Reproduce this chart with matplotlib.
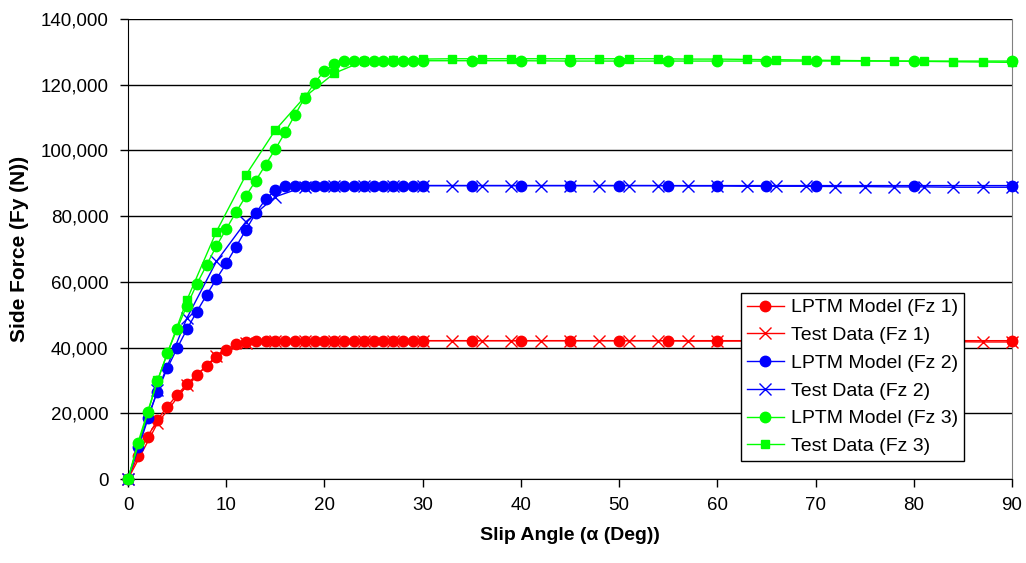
import matplotlib
matplotlib.use("Agg")
import matplotlib.pyplot as plt
from matplotlib.ticker import FuncFormatter, MultipleLocator

plt.rcParams['font.family'] = ['Liberation Sans', 'DejaVu Sans']

# slip angles (deg)
model_alpha = list(range(0, 31)) + [35, 40, 45, 50, 55, 60, 65, 70, 80, 90]
test_alpha = list(range(0, 91, 3))

# LPTM model, Fz 1 / 2 / 3
model_fz1 = [0, 7100, 12900, 18000, 22000, 25600, 28900, 31700, 34400, 37000,
             39300, 41000, 41800] + [42100] * 18 + [42100] * 10
model_fz2 = [0, 9800, 18700, 26600, 33700, 39800, 45600, 50900, 56000, 60900,
             65600, 70700, 75800, 80900, 85100, 87900, 89300] + [89300] * 14 + [89300] * 10
model_fz3 = [0, 10900, 20500, 29800, 38300, 45700, 52800, 59300, 65100, 70900,
             76100, 81200, 86100, 90800, 95600, 100400, 105500, 110800, 116100, 120600,
             124200, 126200, 127200, 127300, 127300, 127300, 127300, 127300, 127300, 127300,
             127300, 127300, 127300, 127200, 127200, 127200, 127200, 127200, 127200, 127200, 127200]

# test data, Fz 1 / 2 / 3
test_fz1 = [0, 17000, 28500, 37500, 41300, 42000, 42100, 42100, 42100, 42100,
            42100, 42100, 42100, 42100, 42100, 42100, 42100, 42100, 42100, 42000,
            42000, 42000, 42000, 42000, 42000, 41900, 41900, 41800, 41800, 41700, 41700]
test_fz2 = [0, 27000, 49000, 66200, 78300, 85900, 89000, 89300, 89300, 89300,
            89300, 89300, 89300, 89300, 89300, 89300, 89300, 89300, 89300, 89200,
            89200, 89100, 89100, 89100, 89000, 89000, 88900, 88900, 88800, 88800, 88800]
test_fz3 = [0, 30000, 54500, 75300, 92500, 106200, 116300, 123500, 127200, 127600,
            127800, 127900, 127900, 127900, 127900, 127900, 127900, 127900, 127900, 127800,
            127800, 127700, 127600, 127500, 127400, 127300, 127200, 127100, 127000, 126900, 126800]

fig = plt.figure(figsize=(10.26, 5.63), dpi=100)
ax = fig.add_axes([128 / 1026, 1 - 479 / 563, (1012 - 128) / 1026, (479 - 19) / 563])

ax.plot(model_alpha, model_fz1, '-o', color='#FF0000', lw=1, ms=7.5, label='LPTM Model (Fz 1)', clip_on=False, zorder=3)
ax.plot(test_alpha, test_fz1, '-x', color='#FF0000', lw=1, ms=8, mew=1, label='Test Data (Fz 1)', clip_on=False, zorder=3)
ax.plot(model_alpha, model_fz2, '-o', color='#0000FF', lw=1, ms=7.5, label='LPTM Model (Fz 2)', clip_on=False, zorder=3)
ax.plot(test_alpha, test_fz2, '-x', color='#0000FF', lw=1, ms=8, mew=1, label='Test Data (Fz 2)', clip_on=False, zorder=3)
ax.plot(model_alpha, model_fz3, '-o', color='#00FF00', lw=1, ms=7.5, label='LPTM Model (Fz 3)', clip_on=False, zorder=3)
ax.plot(test_alpha, test_fz3, '-s', color='#00FF00', lw=1, ms=5.5, label='Test Data (Fz 3)', clip_on=False, zorder=3)

ax.set_xlim(0, 90)
ax.set_ylim(0, 140000)
ax.xaxis.set_major_locator(MultipleLocator(10))
ax.yaxis.set_major_locator(MultipleLocator(20000))
ax.yaxis.set_major_formatter(FuncFormatter(lambda v, p: f"{int(v):,}"))
ax.grid(axis='y', color='black', lw=1)
ax.set_axisbelow(True)

ax.spines['top'].set_visible(False)
ax.spines['right'].set_color('#808080')
for s in ('left', 'bottom'):
    ax.spines[s].set_color('black')
ax.tick_params(axis='both', direction='out', length=6, width=1, labelsize=13.5, colors='black')
ax.tick_params(axis='x', pad=7)
ax.tick_params(axis='y', pad=8)

ax.set_xlabel('Slip Angle (α (Deg))', fontsize=14, fontweight='bold', labelpad=9)
ax.set_ylabel('Side Force (Fy (N))', fontsize=15, fontweight='bold', labelpad=8)

leg = ax.legend(loc='upper left', bbox_to_anchor=(741 / 1026, 1 - 293 / 563),
                bbox_transform=fig.transFigure, fontsize=14, frameon=True, fancybox=False,
                edgecolor='black', framealpha=1, borderpad=0.3, labelspacing=0.52,
                handlelength=1.9, handletextpad=0.35, borderaxespad=0)
leg.get_frame().set_linewidth(1)

fig.savefig('out.png', dpi=100)
